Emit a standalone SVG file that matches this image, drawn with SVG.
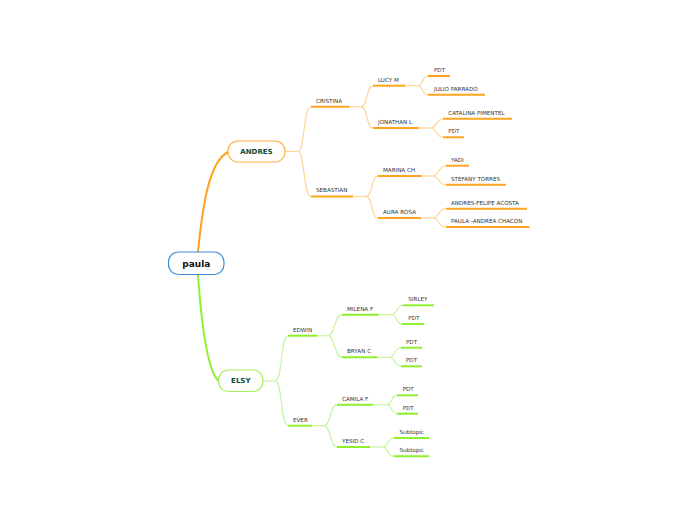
<svg xmlns="http://www.w3.org/2000/svg" width="697" height="520" viewBox="0 0 697 520">
<style>
.t{font-family:"DejaVu Sans","Liberation Sans",sans-serif;font-size:5.6px;fill:#333}
.uo{stroke:#ffa41f;stroke-width:2;fill:none}
.ug{stroke:#8ef02c;stroke-width:2;fill:none}
.lo{stroke:#ffd494;stroke-width:1.1;fill:none}
.lg{stroke:#c4f59a;stroke-width:1.1;fill:none}
.nt{font-family:"DejaVu Sans","Liberation Sans",sans-serif;font-weight:bold;text-anchor:middle}
</style>
<rect width="697" height="520" fill="#fff"/>
<g id="connectors">
<path d="M198 252 C202 212,208 162,228 152" stroke="#ffa21c" stroke-width="2" fill="none"/>
<path d="M198 275 C201 318,207 370,218.5 381" stroke="#8ef02c" stroke-width="2" fill="none"/>
<path class="lo" d="M285 151.5 H298"/>
<path class="lo" d="M298 151.5 C305 151.5,303 106.7,311 106.7"/>
<path class="lo" d="M298 151.5 C305 151.5,303 196.5,311 196.5"/>
<path class="lo" d="M349 106.7 H361"/>
<path class="lo" d="M361 106.7 C368 106.7,366 85.7,373 85.7"/>
<path class="lo" d="M361 106.7 C368 106.7,366 128,373 128"/>
<path class="lo" d="M405 85.7 H418"/>
<path class="lo" d="M418 85.7 C423 85.7,422 76,428 76"/>
<path class="lo" d="M418 85.7 C423 85.7,422 94.7,428 94.7"/>
<path class="lo" d="M419 128 H431"/>
<path class="lo" d="M431 128 C437 128,436 118.7,443 118.7"/>
<path class="lo" d="M431 128 C437 128,436 137.3,443 137.3"/>
<path class="lo" d="M353 196.5 H366"/>
<path class="lo" d="M366 196.5 C373 196.5,371 176,378 176"/>
<path class="lo" d="M366 196.5 C373 196.5,371 218,378 218"/>
<path class="lo" d="M421.5 176 H433"/>
<path class="lo" d="M433 176 C439 176,438 165.7,446 165.7"/>
<path class="lo" d="M433 176 C439 176,438 184.7,446 184.7"/>
<path class="lo" d="M421 218 H433"/>
<path class="lo" d="M433 218 C439 218,438 208.7,446 208.7"/>
<path class="lo" d="M433 218 C439 218,438 227,446 227"/>
<path class="lg" d="M263 381 H275"/>
<path class="lg" d="M275 381 C283 381,280 335.7,288 335.7"/>
<path class="lg" d="M275 381 C283 381,280 425.7,288 425.7"/>
<path class="lg" d="M317 335.7 H328"/>
<path class="lg" d="M328 335.7 C335 335.7,334 314.7,342 314.7"/>
<path class="lg" d="M328 335.7 C335 335.7,334 357.3,342 357.3"/>
<path class="lg" d="M379 314.7 H392"/>
<path class="lg" d="M392 314.7 C397 314.7,396 305.3,403 305.3"/>
<path class="lg" d="M392 314.7 C397 314.7,396 324,402 324"/>
<path class="lg" d="M377 357.3 H390"/>
<path class="lg" d="M390 357.3 C395 357.3,394 347.7,401 347.7"/>
<path class="lg" d="M390 357.3 C395 357.3,394 366.3,401 366.3"/>
<path class="lg" d="M312 425.7 H324"/>
<path class="lg" d="M324 425.7 C331 425.7,330 404.7,337 404.7"/>
<path class="lg" d="M324 425.7 C331 425.7,330 447,337 447"/>
<path class="lg" d="M373 404.7 H387"/>
<path class="lg" d="M387 404.7 C392 404.7,391 395.3,397 395.3"/>
<path class="lg" d="M387 404.7 C392 404.7,391 413.7,397 413.7"/>
<path class="lg" d="M370 447 H383"/>
<path class="lg" d="M383 447 C388 447,387 438,394 438"/>
<path class="lg" d="M383 447 C388 447,387 456.3,394 456.3"/>
</g>
<g id="paula">
<rect x="168.5" y="252" width="55.5" height="22.5" rx="10" fill="#fff" stroke="#3d8fd6" stroke-width="1.2"/>
<text class="nt" x="196.3" y="266.8" font-size="9" fill="#111">paula</text>
</g>
<g id="andres">
<rect x="228" y="141" width="57" height="21" rx="10" fill="#fff" stroke="#ffae3d" stroke-width="1.2"/>
<text class="nt" x="256.5" y="154.3" font-size="7" fill="#0d4b36">ANDRES</text>
</g>
<g id="elsy">
<rect x="218.5" y="370" width="44.5" height="21.5" rx="10" fill="#fff" stroke="#a6ee5c" stroke-width="1.2"/>
<text class="nt" x="240.8" y="383.3" font-size="7" fill="#0d4b36">ELSY</text>
</g>
<g id="cristina"><path class="uo" d="M311 106.7 H349"/><text class="t" x="316" y="102.7">CRISTINA</text></g>
<g id="sebastian"><path class="uo" d="M311 196.5 H353"/><text class="t" x="316" y="192.3">SEBASTIAN</text></g>
<g id="lucy"><path class="uo" d="M373 85.7 H405"/><text class="t" x="378" y="81.5">LUCY M</text></g>
<g id="jonathan"><path class="uo" d="M373 128 H419"/><text class="t" x="378" y="123.8">JONATHAN L</text></g>
<g id="pdt1"><path class="uo" d="M428 76 H450"/><text class="t" x="434" y="71.8">PDT</text></g>
<g id="julio"><path class="uo" d="M428 94.7 H485"/><text class="t" x="434" y="90.5">JULIO PARRADO</text></g>
<g id="catalina"><path class="uo" d="M443 118.7 H512"/><text class="t" x="448.3" y="114.5">CATALINA PIMENTEL</text></g>
<g id="pdt2"><path class="uo" d="M443 137.3 H464"/><text class="t" x="448.3" y="133.1">PDT</text></g>
<g id="marina"><path class="uo" d="M378 176 H421.5"/><text class="t" x="383" y="171.8">MARINA CH</text></g>
<g id="aura"><path class="uo" d="M378 218 H421"/><text class="t" x="383" y="213.8">AURA ROSA</text></g>
<g id="yadi"><path class="uo" d="M446 165.7 H469"/><text class="t" x="451" y="161.5">YADI</text></g>
<g id="stefany"><path class="uo" d="M446 184.7 H506"/><text class="t" x="451" y="180.5">STEFANY TORRES</text></g>
<g id="andresfelipe"><path class="uo" d="M446 208.7 H527"/><text class="t" x="451" y="204.5">ANDRES-FELIPE ACOSTA</text></g>
<g id="paulaandrea"><path class="uo" d="M446 227 H529.5"/><text class="t" x="451" y="222.8">PAULA -ANDREA CHACON</text></g>
<g id="edwin"><path class="ug" d="M288 335.7 H317"/><text class="t" x="293" y="331.5">EDWIN</text></g>
<g id="ever"><path class="ug" d="M288 425.7 H312"/><text class="t" x="293" y="421.5">EVER</text></g>
<g id="milena"><path class="ug" d="M342 314.7 H379"/><text class="t" x="347" y="310.5">MILENA F</text></g>
<g id="bryan"><path class="ug" d="M342 357.3 H377"/><text class="t" x="347" y="353.1">BRYAN C</text></g>
<g id="sirley"><path class="ug" d="M403 305.3 H434"/><text class="t" x="408.3" y="301.1">SIRLEY</text></g>
<g id="pdt3"><path class="ug" d="M402 324 H424"/><text class="t" x="408.3" y="319.8">PDT</text></g>
<g id="pdt4"><path class="ug" d="M401 347.7 H422"/><text class="t" x="406" y="343.5">PDT</text></g>
<g id="pdt5"><path class="ug" d="M401 366.3 H422"/><text class="t" x="406" y="362.1">PDT</text></g>
<g id="camila"><path class="ug" d="M337 404.7 H373"/><text class="t" x="342" y="400.5">CAMILA F</text></g>
<g id="yesid"><path class="ug" d="M337 447 H370"/><text class="t" x="342" y="442.8">YESID  C</text></g>
<g id="pdt6"><path class="ug" d="M397 395.3 H418"/><text class="t" x="402.7" y="391.1">PDT</text></g>
<g id="pdt7"><path class="ug" d="M397 413.7 H418"/><text class="t" x="402.7" y="409.5">PDT</text></g>
<g id="subtopic1"><path class="ug" d="M394 438 H429"/><text class="t" x="399.5" y="433.8">Subtopic</text></g>
<g id="subtopic2"><path class="ug" d="M394 456.3 H429"/><text class="t" x="399.5" y="452.1">Subtopic</text></g>
</svg>
